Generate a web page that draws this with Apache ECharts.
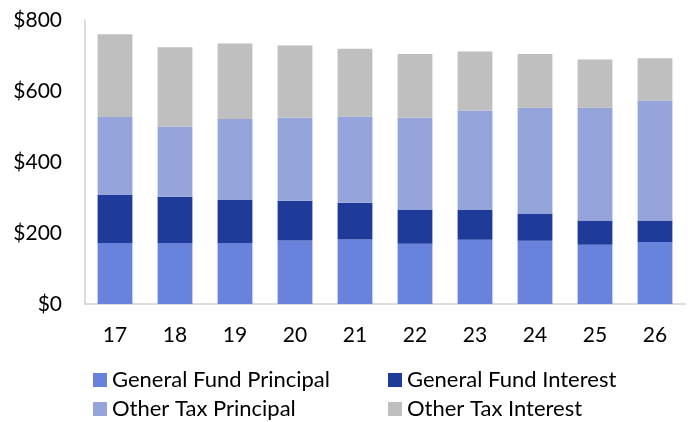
<!DOCTYPE html>
<html>
<head>
<meta charset="utf-8">
<script src="https://cdn.jsdelivr.net/npm/echarts@6/dist/echarts.min.js"></script>
<style>html,body{margin:0;padding:0;background:#fff}#c{width:688px;height:422px}</style>
</head>
<body>
<div id="c"></div>
<script>
var categories = ['17','18','19','20','21','22','23','24','25','26'];
var generalFundPrincipal = [172,172,172,179,182,170,181,178,167,175];
var generalFundInterest = [135,130,121,112,103,95,84,77,68,60];
var otherTaxPrincipal = [220,198,228,234,243,260,280,298,318,338];
var otherTaxInterest = [233,223,213,203,191,179,166,151,136,119];
var yTicks = [0,200,400,600,800];

var names = ['General Fund Principal','General Fund Interest','Other Tax Principal','Other Tax Interest'];
var colors = ['#6983DC','#1F3B99','#95A5DB','#BFBFBF'];
var datas = [generalFundPrincipal, generalFundInterest, otherTaxPrincipal, otherTaxInterest];
var font = 'Lato';
var legendPos = [[93,369],[388,369],[93,398],[388,398]];

var chart = echarts.init(document.getElementById('c'), null, {renderer:'canvas'});
chart.setOption({
  animation:false,
  color: colors,
  grid:{left:85,right:3,top:20,bottom:118,containLabel:false},
  legend: names.map(function(n,i){
    return {data:[n], left:legendPos[i][0], top:legendPos[i][1], itemWidth:14, itemHeight:14, itemGap:8,
      icon:'rect', textStyle:{fontFamily:font,fontSize:22,color:'#000'}, padding:0};
  }),
  xAxis:{type:'category', data:categories,
    axisLine:{lineStyle:{color:'#d0d0d0',width:1.5}}, axisTick:{show:false},
    axisLabel:{fontFamily:font,fontSize:21,color:'#000',margin:21}},
  yAxis:{type:'value', min:yTicks[0], max:yTicks[yTicks.length-1], interval:200,
    axisLine:{show:true,lineStyle:{color:'#d0d0d0',width:1.5}}, axisTick:{show:false},
    splitLine:{show:false},
    axisLabel:{fontFamily:font,fontSize:21,color:'#000',margin:23,formatter:function(v){return '$'+v;}}},
  series: names.map(function(n,i){
    return {name:n,type:'bar',stack:'total',data:datas[i],barCategoryGap:'42%',
      itemStyle:{color:colors[i]}};
  })
});
</script>
</body>
</html>
